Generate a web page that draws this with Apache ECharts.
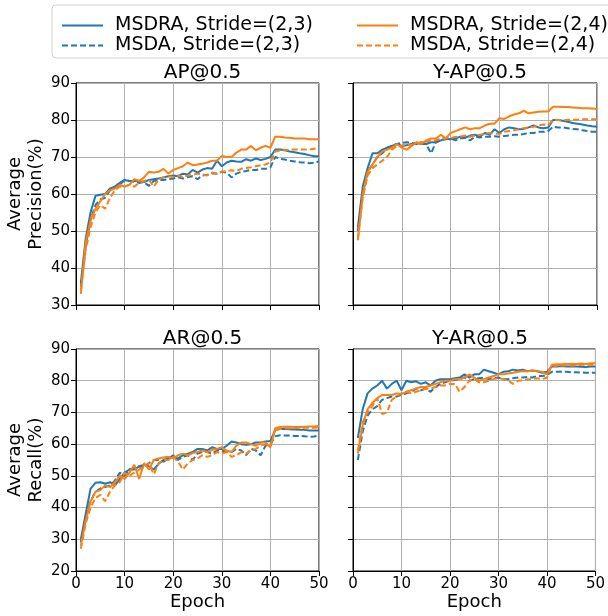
<!DOCTYPE html>
<html lang="en">
<head>
    <meta charset="UTF-8">
    <title>MSDRA vs MSDA</title>
    <script src="https://cdn.jsdelivr.net/npm/echarts@6/dist/echarts.min.js"></script>
    <style>
        body { margin: 0; background: #fff; }
        .box { width: 608px; height: 616px; }
    </style>
</head>
<body>
    <div class="box"></div>
</body>
<script>
 // epochs 1..50
 let epochs = []
 for (let i = 1; i <= 50; i++) epochs.push(i)

 let names = ['MSDRA, Stride=(2,3)', 'MSDA, Stride=(2,3)', 'MSDRA, Stride=(2,4)', 'MSDA, Stride=(2,4)']
 let titles = ['AP@0.5', 'Y-AP@0.5', 'AR@0.5', 'Y-AR@0.5']
 let xTicks = [0, 10, 20, 30, 40, 50]
 let yRangeTop = [30, 90]
 let yRangeBottom = [20, 90]

 // AP@0.5
 let apMsdra23 = [36,48,55,59.5,59.8,60,61.5,62,63,63.8, 63.5,63.5,63.6,63.2,63.8,64,64.2,64.5,64.8,65, 64.8,65.5,65.3,66.5,65.8,66.6,67,66.8,69,67.5, 68.5,69,68.8,68.7,69.4,69,69.6,69.2,69.5,70, 72,72,71.8,71.5,71.3,71,70.8,70.5,70.2,70.2]
 let apMsda23 = [35,46,53,57,58.5,59,61,62,62.5,63.8, 63.5,63.3,63,63.2,62.2,63.5,63.8,63.8,64,64.2, 64.5,64.2,64.6,64.8,64,65,65.2,65.6,65.5,66, 65.8,64.5,65.5,66,66.2,66.5,66.5,66.8,66.8,67.2, 70,69.5,69.3,69,68.8,68.6,68.5,68.3,68.5,68.8]
 let apMsdra24 = [33,47,53,56,58,60,61,61.5,62.5,62, 62.5,64,63.5,64.5,66,65.8,66,66.8,65.5,66.5, 67,67.5,68.5,67.8,68,68.2,68.5,69,69,70.3, 70,70,71.2,72,72,73,71.8,72.5,73,72.5, 75.5,75.5,75.3,75.2,75,75,75,74.8,74.8,74.8]
 let apMsda24 = [34,45,51,55,57,56,59,61,62,62, 62.5,62,63,63.5,63.8,62,64,64.5,64.8,64.6, 65,64.5,65,65.2,65.5,65.3,65,65.8,65.5,66, 66.2,66.4,66.2,66.8,67,67.2,67.5,67.8,68,68.5, 71.5,71.8,71.8,72,72,72,72,72,72.2,72.2]

 // Y-AP@0.5
 let yapMsdra23 = [51,62,67,71,71,72,72.5,73,73.5,73, 73.2,73.5,73.8,73.5,73.5,74,74,74.5,75,74.8, 75,75.5,75.2,75.8,76,75.5,76.5,76,77.5,76.5, 77.5,78,77.8,77.5,77.6,78,78.5,78,77.8,78, 80,80,79.8,79.5,79.2,79,78.8,78.5,78.3,78.2]
 let yapMsda23 = [50,60,66,68,70,71,72.5,73,73.5,73.8, 74,73.8,73.5,74,73.5,71,74,74.5,74.8,75, 74.5,75,75.2,74.5,75.5,75.3,75.5,75.5,75.6,75.5, 75.7,75.8,76,76,76.2,76.5,76.5,76.8,76.8,77, 78.2,78,78,77.8,77.6,77.5,77.2,77,76.8,76.8]
 let yapMsdra24 = [47.5,60,66,68,70,71.5,72,72.5,73.5,72.5, 72,73,74,73.5,74.5,75,75,76,75,76.5, 77,77.5,78,77.5,77.8,77.8,78.5,79,79,80.5, 80.3,81,81.5,81.8,82.5,81.8,82,82.2,82.3,82.3, 83.6,83.6,83.5,83.5,83.4,83.3,83.2,83.2,83.1,83]
 let yapMsda24 = [48,59,65,67,68,69,70,72,73,73, 73.5,73.2,73.8,74,74.2,74.5,74.5,75,75,75.2, 75.4,75.5,75.8,75.5,75.8,76,76.2,76.5,76.4,76.2, 76.8,77,77.2,77.5,77.8,78,78.2,78.5,78.8,78.6, 80,80,80,80,80.1,80.1,80.2,80.2,80.2,80.2]

 // AR@0.5
 let arMsdra23 = [30,38,46,47.8,48,47.5,48,47,49,51, 52,52,53,53.5,53,52,53.8,55,55.5,56, 55.5,56.5,57,57.5,58.5,58.5,58,59,58.5,58.5, 59.5,60.8,60.5,60,59.8,60,60.5,60.5,60.8,61, 64.5,64.8,64.8,64.7,64.6,64.5,64.5,64.3,64.3,64.3]
 let arMsda23 = [29,37,42,45,46,46.5,47,48.5,51,50, 52,52.5,53,52.5,54,55,55,54.5,55.5,56.5, 55,56,56.5,55,57,57.5,57.5,57,58,58, 57.5,57.5,58.5,58,56.5,58.5,58,56.5,59.5,60, 62.5,62.8,62.7,62.7,62.6,62.6,62.5,62.3,62.4,62.7]
 let arMsdra24 = [28,36,42,45,45.5,47,46.5,48,50,49, 51,53.5,49,54,52,55,55.5,55.8,56,55.5, 56.5,57,56.5,57.2,57.5,58,57.5,58.2,58.5,59, 58,57.5,59.5,60.5,60.5,60,59.5,60.5,60.5,59, 65,65.4,65.5,65.5,65.4,65.4,65.5,65.6,65.6,65.8]
 let arMsda24 = [27,35,40,43,44,42,45,47,48,51, 50,51,52,53,54,50.5,54,55,55,56, 54.5,52,54,55,55.5,56.5,56,56.5,57.5,57, 57.5,56,56.5,57.5,57,58,58.5,59.5,60,59.5, 64.5,64.8,65,65,65,65.2,65.2,65.2,65.2,65.3]

 // Y-AR@0.5
 let yarMsdra23 = [62,71,76,77.5,78.5,80,77.5,79,80,77, 80,79.5,79.8,79,79.5,78.5,80,80.5,80.5,80.5, 80.8,81,82,81,82,82,83.5,83,82.5,82, 82.8,83,83.5,83.2,83.5,83,83.2,83,82.5,82.8, 84.5,84.5,84.6,84.5,84.5,84.5,84.4,84.3,84.5,84.5]
 let yarMsda23 = [55,64,69,71,72,74,74.5,75,75,75.5, 76,76.5,77.5,77,77.5,76.5,78,79,79.5,80, 80.2,80.5,81,80,80.5,80.8,81,80.5,80.8,81, 80.5,80.5,80.8,81,81,81.2,81,81.5,81.5,81.8, 82.8,82.8,82.8,82.8,82.7,82.7,82.6,82.5,82.5,82.5]
 let yarMsdra24 = [57,66,71,73,74.5,75.5,75.5,75.5,76,75.8, 76.5,77,77.5,78,78,78.5,79,79.5,80,80, 80.5,80.5,81,82,81,80,80.5,81,81.5,82, 82,82.3,82.5,82.8,83,83,83.2,83,82.8,82, 85,85.2,85.2,85.3,85.3,85.3,85.4,85.3,85.5,85.5]
 let yarMsda24 = [58,67,70,72,74.5,69.5,70,74,75,76, 76.5,76,76.5,77,77.5,77.5,78,78.5,78.5,79, 79,76.5,78,80,80.5,79.5,79.5,80,80.5,80.8, 80.5,80,79,80,80.2,80.5,80.5,80.8,80.5,81, 85,84.5,84.8,84.8,84.8,84.8,85,85,85,85]

 let panels = [
    [apMsdra23, apMsda23, apMsdra24, apMsda24],
    [yapMsdra23, yapMsda23, yapMsdra24, yapMsda24],
    [arMsdra23, arMsda23, arMsdra24, arMsda24],
    [yarMsdra23, yarMsda23, yarMsdra24, yarMsda24]
 ]

 let blue = '#1f77b4'
 let orange = '#ff7f0e'
 let colors = [blue, blue, orange, orange]
 let dashed = [false, true, false, true]
 let font = 'DejaVu Sans'

 // grid boxes: [left, top, width, height]
 let boxes = [
    [76, 83, 243, 222],
    [353, 83, 244, 222],
    [76, 349, 243, 222],
    [353, 349, 244, 222]
 ]

 let Echarts = echarts.init(document.querySelector('.box'));

 let grid = [], xAxis = [], yAxis = [], series = [], title = []
 boxes.forEach((b, i) => {
    let isLeft = i % 2 == 0
    let isBottom = i >= 2
    grid.push({
        left: b[0], top: b[1], width: b[2], height: b[3],
        show: true, borderColor: '#000', borderWidth: 1, backgroundColor: 'transparent'
    })
    title.push({
        text: titles[i],
        left: b[0] + b[2] / 2,
        top: b[1] - 25,
        textAlign: 'center',
        textStyle: { fontFamily: font, fontSize: 20, fontWeight: 'normal', color: '#000' }
    })
    xAxis.push({
        type: 'value', gridIndex: i,
        min: xTicks[0], max: xTicks[xTicks.length - 1], interval: 10,
        name: isBottom ? 'Epoch' : '',
        nameLocation: 'middle', nameGap: 22,
        nameTextStyle: { fontFamily: font, fontSize: 18, color: '#000' },
        axisLine: { show: true, onZero: false, lineStyle: { color: '#000', width: 1 } },
        axisTick: { show: true, length: 5, lineStyle: { color: '#000' } },
        axisLabel: { show: isBottom, margin: 6, fontFamily: font, fontSize: 15, color: '#000' },
        splitLine: { show: true, lineStyle: { color: '#b0b0b0', width: 1 } }
    })
    let yr = isBottom ? yRangeBottom : yRangeTop
    yAxis.push({
        type: 'value', gridIndex: i,
        min: yr[0], max: yr[1], interval: 10,
        name: isLeft ? (isBottom ? 'Average\nRecall(%)' : 'Average\nPrecision(%)') : '',
        nameLocation: 'middle', nameRotate: 90, nameGap: 26,
        nameTextStyle: { fontFamily: font, fontSize: 18, color: '#000', lineHeight: 21 },
        axisLine: { show: true, onZero: false, lineStyle: { color: '#000', width: 1 } },
        axisTick: { show: true, length: 5, lineStyle: { color: '#000' } },
        axisLabel: { show: isLeft, margin: 6, fontFamily: font, fontSize: 15, color: '#000' },
        splitLine: { show: true, lineStyle: { color: '#b0b0b0', width: 1 } }
    })
    panels[i].forEach((vals, k) => {
        series.push({
            name: names[k],
            type: 'line',
            xAxisIndex: i, yAxisIndex: i,
            data: epochs.map((e, j) => [e, vals[j]]),
            symbol: 'none',
            color: colors[k],
            lineStyle: { color: colors[k], width: 2, type: dashed[k] ? [6, 3] : 'solid' }
        })
    })
 })

 let legendCommon = {
    orient: 'vertical',
    top: 11,
    itemWidth: 41,
    itemHeight: 14,
    itemGap: 1,
    selectedMode: false,
    itemStyle: { opacity: 0, borderWidth: 0 }, // hide the circle, keep the line
    textStyle: { fontFamily: font, fontSize: 19, color: '#000', padding: [0, 0, 0, 7] }
 }

 let optien = {
    animation: false,
    backgroundColor: '#fff',
    graphic: [{
        type: 'rect',
        shape: { x: 52, y: 5, width: 570, height: 53, r: 4 },
        style: { fill: 'rgba(255,255,255,0.8)', stroke: '#d0d0d0', lineWidth: 1 },
        z: -1
    }],
    title: title,
    legend: [
        Object.assign({ left: 56, data: [names[0], names[1]] }, legendCommon),
        Object.assign({ left: 351, data: [names[2], names[3]] }, legendCommon)
    ],
    grid: grid,
    xAxis: xAxis,
    yAxis: yAxis,
    series: series
 }
 Echarts.setOption(optien)
</script>
</html>
